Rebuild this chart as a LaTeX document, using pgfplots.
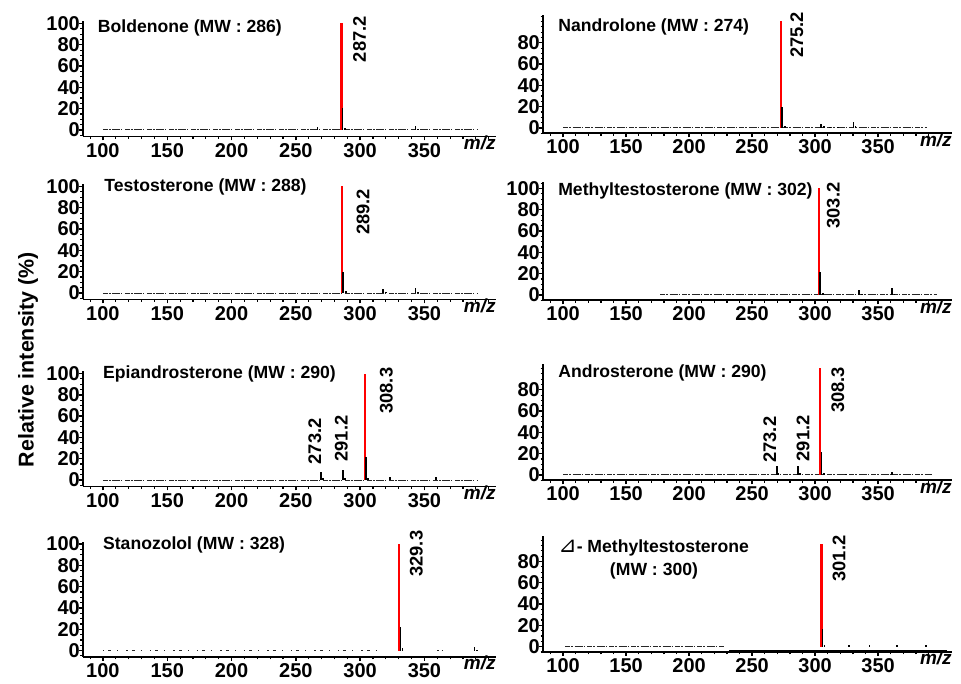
\documentclass[border=0pt]{standalone}
\usepackage{fontspec}
\setmainfont{Liberation Sans}
\newfontfamily\symfont{DejaVu Sans}
\usepackage{pgfplots}
\pgfplotsset{compat=1.18}

\newcommand\tfont{\fontsize{17.6}{20}\selectfont\bfseries}
\newcommand\pfont{\fontsize{18.3}{20}\selectfont\bfseries}

\pgfplotsset{
  spec/.style={
    y=1.065pt, ymin=-6, ymax=102,
    axis x line*=bottom, axis y line*=left,
    axis line style={-, line width=1.6pt},
    xtick={100,150,...,350}, minor xtick={90,100,...,400},
    ytick={0,20,...,100}, minor ytick={-5,0,...,105},
    tick align=outside, major tick length=4pt, minor tick length=2.5pt,
    every major tick/.append style={line width=1.4pt, black},
    every minor tick/.append style={line width=1.1pt, black},
    tick label style={font=\fontsize{20}{22}\selectfont\bfseries},
    yticklabel style={inner xsep=0pt, xshift=1pt},
    xticklabel style={inner ysep=2.5pt},
    /pgf/number format/assume math mode=true,
    clip=false, anchor=south west,
  },
  lcol/.style={spec, x=1.286pt, xmin=84.5, xmax=405.5},
  rcol/.style={spec, x=1.26pt, xmin=84, xmax=408.5, ymin=-5, ymax=106},
  redpk/.style={ycomb, no marks, draw=red, line width=2.2pt},
  blkpk/.style={ycomb, no marks, draw=black, line width=1.6pt},
  noise/.style={no marks, draw=black!85, line width=1pt,
    dash pattern=on 5pt off 1pt on 2pt off 1.5pt on 8pt off 1pt on 1pt off 2.5pt},
}
\tikzset{
  mz/.style={anchor=north east, inner sep=0pt, yshift=1pt,
    font=\fontsize{19}{21}\selectfont\bfseries\itshape},
  plab/.style={rotate=90, anchor=east, inner sep=0pt, font=\pfont},
  ttl/.style={anchor=west, inner sep=0pt, font=\tfont},
}

\begin{document}
\begin{tikzpicture}
\useasboundingbox (0,0) rectangle (961pt,684pt);

\node[rotate=90, font=\fontsize{21.4}{24}\selectfont\bfseries] at (28pt,324.5pt) {Relative intensity (\%)};

% row 1
\begin{axis}[lcol, at={(83pt,547.6pt)}]
\addplot[noise] coordinates {(100,0) (392,0)};
\addplot[redpk] coordinates {(285.5,100)};
\addplot[blkpk] coordinates {(286.4,21) (288,1.5) (267,3) (343,3.5) (345,1)};
\node[ttl] at (axis cs:96,96) {Boldenone (MW : 286)};
\node[plab] at (axis cs:299.6,107) {287.2};
\node[mz] at (rel axis cs:1,0) {m/z};
\end{axis}

\begin{axis}[rcol, at={(543pt,550.7pt)}, ytick={0,20,...,80}]
\addplot[noise] coordinates {(100,0) (389,0)};
\addplot[redpk] coordinates {(273,100)};
\addplot[blkpk] coordinates {(273.8,20) (276,1.5) (304.8,4) (307,1.5) (312,1) (318,1) (330.4,6) (332,1.5)};
\node[ttl] at (axis cs:96,95) {Nandrolone (MW : 274)};
\node[plab] at (axis cs:285.5,109) {275.2};
\node[mz] at (rel axis cs:1,0) {m/z};
\end{axis}

% row 2
\begin{axis}[lcol, at={(83pt,384.6pt)}]
\addplot[noise] coordinates {(100,0) (391,0)};
\addplot[redpk] coordinates {(286,100)};
\addplot[blkpk] coordinates {(286.9,20) (289,1.5) (317.8,3.5) (320,1) (343,5) (345,1)};
\node[ttl] at (axis cs:101,100) {Testosterone (MW : 288)};
\node[plab] at (axis cs:302.2,98) {289.2};
\node[mz] at (rel axis cs:1,0) {m/z};
\end{axis}

\begin{axis}[rcol, at={(543pt,383.7pt)}]
\addplot[noise] coordinates {(177,0) (397,0)};
\addplot[redpk] coordinates {(303.2,100)};
\addplot[blkpk] coordinates {(304,22) (306,1.5) (335,5) (337,1) (361,7) (363,1)};
\node[ttl] at (axis cs:96,98) {Methyltestosterone (MW : 302)};
\node[plab] at (axis cs:314.5,105.6) {303.2};
\node[mz] at (rel axis cs:1,0) {m/z};
\end{axis}

% row 3
\begin{axis}[lcol, at={(83pt,197.6pt)}]
\addplot[noise] coordinates {(100,0) (392,0)};
\addplot[redpk] coordinates {(303.5,100)};
\addplot[blkpk] coordinates {(304.4,21.5) (306,2) (269.4,7.5) (271,1.5) (286.6,9.5) (288,1.5) (323,2.5) (359,3)};
\node[ttl] at (axis cs:100,100) {Epiandrosterone (MW : 290)};
\node[plab] at (axis cs:264.7,58) {273.2};
\node[plab] at (axis cs:285.4,60.7) {291.2};
\node[plab] at (axis cs:320.4,105.6) {308.3};
\node[mz] at (rel axis cs:1,0) {m/z};
\end{axis}

\begin{axis}[rcol, at={(543pt,203.7pt)}, ymax=104, ytick={0,20,...,80}]
\addplot[noise] coordinates {(100,0) (393,0)};
\addplot[redpk] coordinates {(304,100)};
\addplot[blkpk] coordinates {(305,22) (307,2) (269.6,8) (271,1.5) (286.5,8) (288,1.5) (324.6,1) (361,3)};
\node[ttl] at (axis cs:96,96) {Androsterone (MW : 290)};
\node[plab] at (axis cs:264,54.8) {273.2};
\node[plab] at (axis cs:290.5,56) {291.2};
\node[plab] at (axis cs:318,101.7) {308.3};
\node[mz] at (rel axis cs:1,0) {m/z};
\end{axis}

% row 4
\begin{axis}[lcol, at={(83pt,27pt)}]
\addplot[noise, dash pattern=on 1.5pt off 4pt on 3pt off 6pt on 1pt off 8pt] coordinates {(100,0) (314,0)};
\addplot[noise, dash pattern=on 1.5pt off 3pt] coordinates {(360,0) (365,0)};
\addplot[redpk] coordinates {(330.5,100)};
\addplot[blkpk] coordinates {(331.4,22) (333,2) (389,3) (391,1)};
\node[ttl] at (axis cs:100,99.5) {Stanozolol (MW : 328)};
\node[plab] at (axis cs:343.7,112.7) {329.3};
\node[mz] at (rel axis cs:1,0) {m/z};
\end{axis}

\begin{axis}[rcol, at={(543pt,32pt)}, ymax=104, ytick={0,20,...,80}]
\addplot[noise] coordinates {(101.6,0) (228,0)};
\addplot[no marks, draw=black, line width=1.6pt] coordinates {(232,-4) (405,-4)};
\addplot[redpk] coordinates {(305,96)};
\addplot[blkpk] coordinates {(305.9,17) (307.5,1.5) (327,2) (343,2) (365,1.5) (388,1.5)};
\node[ttl] at (axis cs:96,93) {{\symfont\fontsize{22}{22}\selectfont\mdseries ⊿}- Methyltestosterone};
\node[ttl] at (axis cs:137,71.5) {(MW : 300)};
\node[plab] at (axis cs:319,104.5) {301.2};
\node[mz] at (rel axis cs:1,0) {m/z};
\end{axis}
\end{tikzpicture}
\end{document}
